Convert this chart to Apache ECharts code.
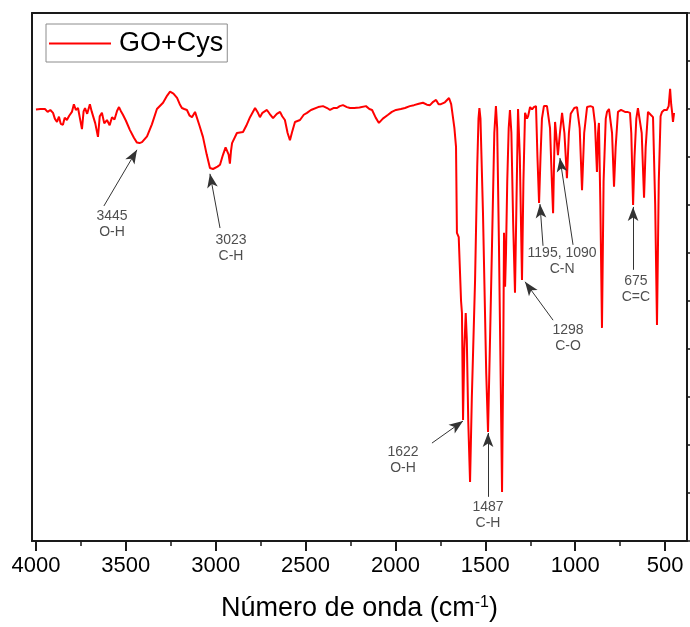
<!DOCTYPE html>
<html>
<head>
<meta charset="utf-8">
<script src="https://cdn.jsdelivr.net/npm/echarts@6/dist/echarts.min.js"></script>
<style>
html, body { margin: 0; padding: 0; background: #fff; }
#chart { width: 690px; height: 627px; }
</style>
</head>
<body>
<div id="chart"></div>
<script>
// FTIR spectrum GO+Cys, wavenumber (cm-1) / transmittance (arb.)
var wavenumber = [
	4000, 3975, 3950, 3935, 3920, 3905, 3895, 3883, 3872, 3862,
	3850, 3840, 3828, 3815, 3800, 3789, 3778, 3766, 3755, 3744,
	3735, 3727, 3715, 3700, 3690, 3683, 3670, 3655, 3645, 3633,
	3620, 3605, 3590, 3577, 3563, 3549, 3538, 3528, 3516, 3500,
	3477, 3455, 3438, 3424, 3410, 3382, 3355, 3327, 3293, 3270,
	3254, 3235, 3215, 3200, 3188, 3175, 3160, 3145, 3132, 3115,
	3090, 3071, 3050, 3032, 3015, 3004, 2990, 2976, 2960, 2945,
	2937, 2928, 2921, 2915, 2909, 2882, 2848, 2830, 2809, 2781,
	2765, 2754, 2740, 2715, 2700, 2681, 2660, 2642, 2630, 2615,
	2600, 2587, 2575, 2559, 2531, 2510, 2492, 2470, 2459, 2430,
	2403, 2380, 2364, 2345, 2325, 2310, 2292, 2270, 2253, 2230,
	2200, 2164, 2145, 2130, 2110, 2092, 2070, 2041, 2020, 1997,
	1970, 1947, 1920, 1897, 1870, 1847, 1825, 1808, 1790, 1774,
	1760, 1747, 1725, 1702, 1690, 1680, 1672, 1663, 1658, 1648,
	1635, 1630, 1624, 1617, 1609, 1603, 1595, 1585, 1575, 1557,
	1545, 1538, 1533, 1527, 1513, 1495, 1485, 1475, 1463, 1450,
	1441, 1434, 1424, 1414, 1407, 1400, 1396, 1390, 1385, 1378,
	1370, 1363, 1355, 1345, 1335, 1327, 1318, 1308, 1296, 1288,
	1279, 1268, 1262, 1251, 1240, 1230, 1218, 1210, 1201, 1193,
	1185, 1174, 1157, 1140, 1130, 1123, 1117, 1112, 1104, 1096,
	1085, 1073, 1060, 1046, 1035, 1025, 1018, 1005, 990, 975,
	962, 950, 934, 915, 901, 890, 879, 873, 868, 860,
	851, 842, 830, 823, 812, 801, 795, 784, 775, 762,
	745, 723, 710, 695, 688, 678, 670, 660, 651, 640,
	630, 617, 608, 595, 580, 567, 555, 545, 535, 525,
	517, 505, 490, 480, 472, 466, 461, 456, 450
];
var transmittance = [
	89.9, 90.0, 90.0, 89.4, 89.8, 89.2, 88.0, 87.3, 88.4, 86.9,
	86.7, 88.2, 87.7, 88.6, 89.4, 91.0, 89.8, 90.2, 88.0, 85.8,
	89.5, 90.2, 89.0, 91.0, 89.5, 89.2, 87.0, 84.2, 88.5, 89.2,
	87.0, 87.7, 86.6, 88.3, 87.8, 89.6, 90.4, 89.6, 88.8, 87.6,
	85.6, 84.0, 83.0, 82.9, 83.1, 84.3, 86.8, 90.0, 91.3, 92.8,
	93.6, 93.2, 92.3, 91.0, 90.2, 90.0, 89.8, 88.6, 88.3, 89.4,
	86.5, 84.2, 80.5, 77.7, 77.5, 77.8, 78.0, 78.4, 80.4, 82.0,
	82.1, 80.5, 78.6, 81.2, 82.9, 85.0, 85.2, 86.5, 88.3, 90.2,
	89.2, 88.3, 89.2, 89.8, 89.0, 88.1, 89.0, 89.4, 88.5, 87.7,
	85.0, 83.5, 85.2, 87.3, 87.7, 88.8, 89.2, 89.8, 90.2, 90.4,
	90.6, 90.2, 89.8, 90.2, 90.2, 90.6, 90.8, 90.4, 90.2, 90.2,
	90.3, 90.6, 90.0, 89.8, 88.2, 87.1, 88.0, 88.8, 89.4, 89.8,
	90.0, 90.2, 90.6, 90.8, 91.1, 91.3, 90.9, 90.8, 91.5, 91.9,
	91.0, 91.0, 91.4, 92.3, 91.0, 90.8, 86.0, 82.1, 64.2, 63.3,
	50.0, 47.5, 25.2, 40.0, 47.5, 42.0, 25.0, 12.3, 30.0, 54.4,
	78.0, 88.0, 90.2, 88.0, 68.3, 35.0, 22.7, 40.0, 61.3, 85.0,
	90.6, 86.0, 61.3, 32.0, 10.2, 40.0, 64.2, 53.0, 60.0, 75.0,
	86.0, 89.8, 85.0, 66.0, 51.7, 70.0, 90.0, 80.0, 54.4, 75.0,
	89.2, 88.0, 88.5, 90.4, 89.9, 90.4, 90.6, 80.0, 70.4, 80.0,
	88.0, 90.6, 90.6, 86.0, 75.0, 68.3, 80.0, 87.3, 84.0, 80.4,
	85.0, 89.2, 85.0, 75.6, 85.0, 89.0, 89.4, 90.2, 90.4, 86.0,
	73.1, 85.0, 90.4, 90.6, 90.4, 87.0, 76.9, 85.0, 87.1, 70.0,
	44.4, 75.0, 88.0, 89.4, 90.0, 89.8, 85.0, 73.8, 82.0, 89.4,
	89.8, 89.4, 89.4, 89.2, 85.0, 70.0, 80.0, 88.0, 90.2, 89.8,
	85.0, 71.5, 82.0, 89.4, 88.8, 88.3, 70.0, 45.0, 75.0, 88.5,
	89.4, 89.8, 89.8, 90.6, 94.2, 91.0, 89.4, 87.3, 89.2
];

var tickValues = [4000, 3500, 3000, 2500, 2000, 1500, 1000, 500];
var minorTickValues = [3750, 3250, 2750, 2250, 1750, 1250, 750];

// peak annotations (data units)
var peakText = ['3445\nO-H', '3023\nC-H', '1622\nO-H', '1487\nC-H', '1298\nC-O', '1195, 1090\nC-N', '675\nC=C'];
var textAt = [[3577, 66.1], [2915, 61.1], [1958, 16.9], [1485, 5.3], [1040, 42.3], [1073, 58.3], [662, 52.5]];
var arrowFrom = [[3622, 69.8], [2976, 65.2], [1797, 20.4], [1485, 9.2], [1123, 46.0], [1179, 61.5], [1012, 61.7], [678, 56.5]];
var arrowTo = [[3438, 81.5], [3032, 76.5], [1624, 25.0], [1485, 22.5], [1279, 54.0], [1196, 70.2], [1085, 79.8], [678, 69.6]];

var FONT = 'Liberation Sans, Arial, sans-serif';
var AXIS_COLOR = '#1a1a1a';

var spectrum = [];
for (var i = 0; i < wavenumber.length; i++) {
	spectrum.push([wavenumber[i], transmittance[i]]);
}
var arrows = [];
for (var j = 0; j < arrowFrom.length; j++) {
	arrows.push([
		{ coord: arrowFrom[j], symbol: 'none' },
		{ coord: arrowTo[j], symbol: 'arrow', symbolSize: [8, 14] }
	]);
}

var myChart = echarts.init(document.getElementById('chart'));

var baseX = {
	type: 'value',
	inverse: true,
	min: 378,
	max: 4022,
	splitLine: { show: false },
	axisLine: { show: true, onZero: false, lineStyle: { color: AXIS_COLOR, width: 2 } }
};

var option = {
	animation: false,
	textStyle: { fontFamily: FONT },
	grid: { left: 32, right: 3, top: 13, bottom: 86 },
	legend: {
		data: [{ name: 'GO+Cys', icon: 'rect' }],
		left: 46,
		top: 24,
		itemWidth: 62,
		itemHeight: 2,
		itemGap: 0,
		padding: [6, 4, 5, 3],
		borderColor: '#8c8c8c',
		borderWidth: 1,
		borderRadius: 0,
		textStyle: { fontSize: 27, color: '#000', fontFamily: FONT, padding: [0, 0, 0, 3] }
	},
	xAxis: [
		Object.assign({}, baseX, {
			position: 'bottom',
			axisTick: { show: true, customValues: tickValues, length: 10, lineStyle: { color: AXIS_COLOR, width: 2 } },
			axisLabel: {
				customValues: tickValues, fontSize: 22, color: '#000', margin: 14, fontFamily: FONT,
				formatter: function(v) { return String(v); }
			},
			name: 'Número de onda (cm{sup|-1})',
			nameLocation: 'middle',
			nameGap: 54,
			nameTextStyle: {
				fontSize: 27, color: '#000', fontFamily: FONT,
				rich: { sup: { fontSize: 16, color: '#000', fontFamily: FONT, verticalAlign: 'top' } }
			}
		}),
		Object.assign({}, baseX, {
			position: 'top',
			axisTick: { show: false },
			axisLabel: { show: false }
		}),
		Object.assign({}, baseX, {
			position: 'bottom',
			axisLine: { show: false },
			axisTick: { show: true, customValues: minorTickValues, length: 5, lineStyle: { color: AXIS_COLOR, width: 1.5 } },
			axisLabel: { show: false }
		})
	],
	yAxis: [
		{
			type: 'value', min: 0, max: 110, interval: 10, position: 'left',
			splitLine: { show: false },
			axisLine: { show: true, onZero: false, lineStyle: { color: AXIS_COLOR, width: 2 } },
			axisTick: { show: false },
			axisLabel: { show: false }
		},
		{
			type: 'value', min: 0, max: 110, interval: 10, position: 'right',
			splitLine: { show: false },
			axisLine: { show: true, onZero: false, lineStyle: { color: AXIS_COLOR, width: 2 } },
			axisTick: { show: true, length: 5, lineStyle: { color: AXIS_COLOR, width: 1.5 } },
			axisLabel: { show: false }
		}
	],
	series: [
		{
			name: 'GO+Cys',
			type: 'line',
			xAxisIndex: 0,
			yAxisIndex: 0,
			data: spectrum,
			symbol: 'none',
			lineStyle: { color: '#ff0000', width: 2 },
			itemStyle: { color: '#ff0000' },
			markLine: {
				silent: true,
				animation: false,
				label: { show: false },
				lineStyle: { color: '#333', width: 1, type: 'solid' },
				data: arrows
			}
		},
		{
			name: 'peaks',
			type: 'scatter',
			xAxisIndex: 0,
			yAxisIndex: 0,
			silent: true,
			symbolSize: 0,
			data: textAt,
			label: {
				show: true,
				position: 'inside',
				fontSize: 14,
				lineHeight: 16,
				color: '#222',
				fontFamily: FONT,
				formatter: function(params) {
					return peakText[params.dataIndex];
				}
			}
		}
	]
};

myChart.setOption(option);
</script>
</body>
</html>
